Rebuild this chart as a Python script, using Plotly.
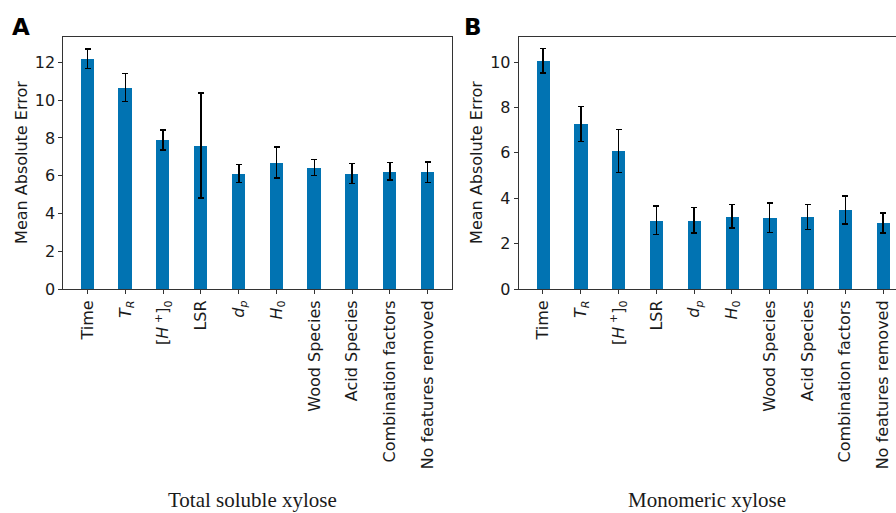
import plotly.graph_objects as go

# Feature-removal ablation: mean absolute error with std error bars
features = ["Time", "<i>T</i><sub><i>R</i></sub>", "[<i>H</i><sup> +</sup>]<sub>0</sub>", "LSR",
            "<i>d</i><sub><i>p</i></sub>", "<i>H</i><sub>0</sub>", "Wood Species",
            "Acid Species", "Combination factors", "No features removed"]

total_mae = [12.2, 10.67, 7.89, 7.6, 6.11, 6.71, 6.44, 6.12, 6.23, 6.19]
total_err = [0.52, 0.73, 0.54, 2.77, 0.47, 0.82, 0.43, 0.52, 0.46, 0.54]

mono_mae = [10.06, 7.28, 6.09, 3.03, 3.03, 3.2, 3.13, 3.17, 3.49, 2.91]
mono_err = [0.53, 0.77, 0.95, 0.62, 0.57, 0.52, 0.65, 0.55, 0.62, 0.45]

titles = ["Total soluble xylose", "Monomeric xylose"]
panel_tags = ["A", "B"]

W, H = 896, 513
BLUE = "#0173B2"
INK = "#1a1a1a"
LINE = "#333333"

pos = list(range(len(features)))

fig = go.Figure()
for i, (vals, errs) in enumerate([(total_mae, total_err), (mono_mae, mono_err)]):
    sfx = "" if i == 0 else "2"
    fig.add_trace(go.Bar(
        x=pos, y=vals, width=0.35,
        marker=dict(color=BLUE, line=dict(width=0)),
        error_y=dict(type="data", array=errs, visible=True,
                     color="black", thickness=1.5, width=3),
        xaxis="x" + sfx, yaxis="y" + sfx, showlegend=False,
    ))


def px_x(p):
    return p / W


def px_y(p):
    return 1 - p / H


ydom = [px_y(289), px_y(36.7)]
tick_font = dict(family="DejaVu Sans", size=16, color=INK)

common_x = dict(tickmode="array", tickvals=pos, ticktext=features, tickangle=-90,
                ticks="outside", ticklen=4, tickwidth=1, tickcolor=LINE,
                showline=True, linecolor=LINE, linewidth=1, mirror=True,
                showgrid=False, zeroline=False, tickfont=tick_font, automargin=False)
common_y = dict(ticks="outside", ticklen=4, tickwidth=1, tickcolor=LINE,
                showline=True, linecolor=LINE, linewidth=1,
                showgrid=False, zeroline=False, tickfont=tick_font, dtick=2,
                automargin=False)

fig.update_layout(
    width=W, height=H,
    margin=dict(l=0, r=0, t=0, b=0, autoexpand=False),
    paper_bgcolor="white", plot_bgcolor="white",
    bargap=0,
    xaxis=dict(domain=[px_x(63.3), px_x(452)], range=[-0.6425, 9.6425], anchor="y", **common_x),
    yaxis=dict(domain=ydom, range=[0, 13.36], anchor="x", mirror=True, **common_y),
    xaxis2=dict(domain=[px_x(518.7), 1.0], range=[-0.6425, 9.342], anchor="y2", **common_x),
    yaxis2=dict(domain=ydom, range=[0, 11.12], anchor="x2", mirror=False, **common_y),
)

annotations = []
# y-axis titles
for xc in [22, 477]:
    annotations.append(dict(text="Mean Absolute Error", x=px_x(xc), y=px_y(162.9),
                            xref="paper", yref="paper", xanchor="center", yanchor="middle",
                            textangle=-90, showarrow=False,
                            font=dict(family="DejaVu Sans", size=16, color=INK)))
# panel tags
for xl, tag in zip([10, 462], panel_tags):
    annotations.append(dict(text="<b>%s</b>" % tag, x=px_x(xl), y=px_y(27),
                            xref="paper", yref="paper", xanchor="left", yanchor="middle",
                            showarrow=False,
                            font=dict(family="DejaVu Sans", size=23, color="black")))
# panel captions
for xc, t in zip([252, 706.5], titles):
    annotations.append(dict(text=t, x=px_x(xc), y=px_y(512.5), xref="paper", yref="paper",
                            xanchor="center", yanchor="bottom", showarrow=False,
                            borderpad=0,
                            font=dict(family="Liberation Serif", size=21, color=INK)))
fig.update_layout(annotations=annotations)

fig.write_html("out.html")
